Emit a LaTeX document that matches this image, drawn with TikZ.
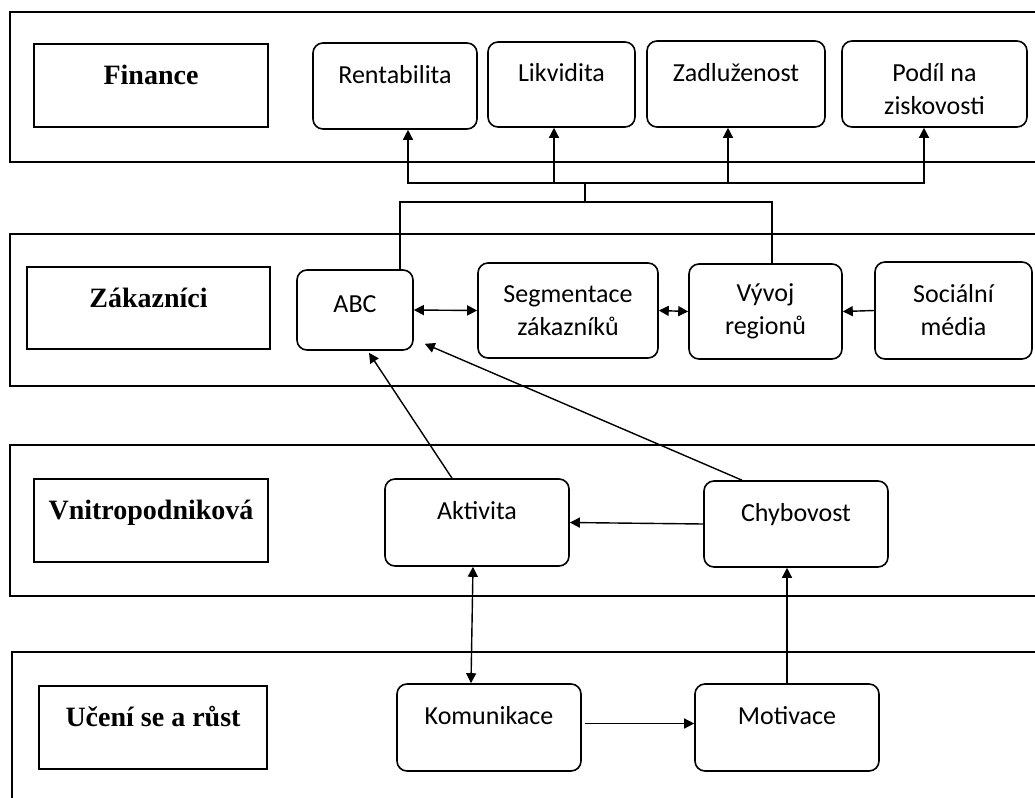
\documentclass[tikz,border=0pt]{standalone}
\usepackage{fontspec}
\setmainfont{Liberation Serif}
\newfontfamily\calib{Carlito}
\usetikzlibrary{arrows.meta,calc}

\begin{document}
\begin{tikzpicture}[x=0.5pt, y=-0.5pt, line width=0.8pt,
		>={Triangle[length=5pt,width=5pt]},
		head/.style={draw, inner sep=0pt, font=\bfseries\fontsize{14}{17}\selectfont, text height=8pt, text depth=9pt},
		item/.style={draw, rounded corners=5pt, inner sep=0pt, align=center, font=\calib\fontsize{13}{16.5}\selectfont},
		one/.style={text height=8pt, text depth=11pt},
		link/.style={line width=0.7pt}]
		\clip (0,0) rectangle (1035,798);
		\draw (10,12) rectangle (1040,162);
		\draw (10,234) rectangle (1040,386);
		\draw (10,445) rectangle (1040,596);
		\draw (12,652) rectangle (1040,810);
		\node[head, minimum width=117pt, minimum height=41.5pt] (fin) at (151,85.5) {Finance};
		\node[head, minimum width=121.5pt, minimum height=41pt] (zak) at (148.5,308) {Zákazníci};
		\node[head, minimum width=117pt, minimum height=41.5pt] (vni) at (151,520.5) {Vnitropodniková};
		\node[head, minimum width=114pt, minimum height=41.5pt] (uce) at (153,727.5) {Učení se a růst};
		\node[item, one, minimum width=82pt, minimum height=43pt] (rent) at (395,86) {Rentabilita};
		\node[item, one, minimum width=73.5pt, minimum height=42.5pt] (likv) at (561.5,84.5) {Likvidita};
		\node[item, one, minimum width=89pt, minimum height=43pt] (zadl) at (736,84) {Zadluženost};
		\node[item, minimum width=92.5pt, minimum height=43pt] (podil) at (934.5,84) {\rule{0pt}{14pt}Podíl na\\ziskovosti};
		\node[item, one, text depth=6pt, minimum width=58pt, minimum height=40pt] (abc) at (355,310) {ABC};
		\node[item, minimum width=90pt, minimum height=47.5pt] (seg) at (568,310.5) {Segmentace\\zákazníků};
		\node[item, minimum width=76.5pt, minimum height=47.5pt] (vyv) at (765.5,311.5) {Vývoj\\regionů};
		\node[item, minimum width=78.5pt, minimum height=48.5pt] (soc) at (953.5,310.5) {Sociální\\média};
		\node[item, one, minimum width=92pt, minimum height=43.5pt] (akt) at (477,522.5) {Aktivita};
		\node[item, one, minimum width=92pt, minimum height=43pt] (chy) at (796,524) {Chybovost};
		\node[item, one, minimum width=92pt, minimum height=43.5pt] (kom) at (489,727.5) {Komunikace};
		\node[item, one, minimum width=92pt, minimum height=43.5pt] (mot) at (787,727.5) {Motivace};
		\coordinate (jn) at (585,202);
		\coordinate (fk) at (585,183);
		\draw[link] ($(abc.north)+(45,0)$) |- (jn) -| ($(vyv.north)+(6.5,0)$);
		\draw[link] (jn) -- (fk);
		\foreach \n/\dx in {rent/13, likv/-7.5, zadl/-8, podil/-10.5}
			\draw[link, ->] (fk) -| ($(\n.south)+(\dx,0)$);
		\draw[link, <->] (abc.east) -- (seg.west);
		\draw[link, <->] (seg.east) -- (vyv.west);
		\draw[link, ->] (soc.west) -- (vyv.east);
		\draw[link, ->] ($(akt.north)+(-25,0)$) -- ($(abc.south)+(14,2)$);
		\draw[link, ->] ($(chy.north)+(-54,0)$) -- ($(abc.south east)+(11,-7)$);
		\draw[link, ->] (chy.west) -- (akt.east);
		\draw[link, <->] ($(akt.south)+(-4,0)$) -- ($(kom.north)+(-18,0)$);
		\draw[link, ->] (mot.north) -- (mot.north |- chy.south);
		\draw[link, ->] ($(kom.east)+(3,-4)$) -- ($(mot.west)+(0,-4)$);
\end{tikzpicture}
\end{document}
